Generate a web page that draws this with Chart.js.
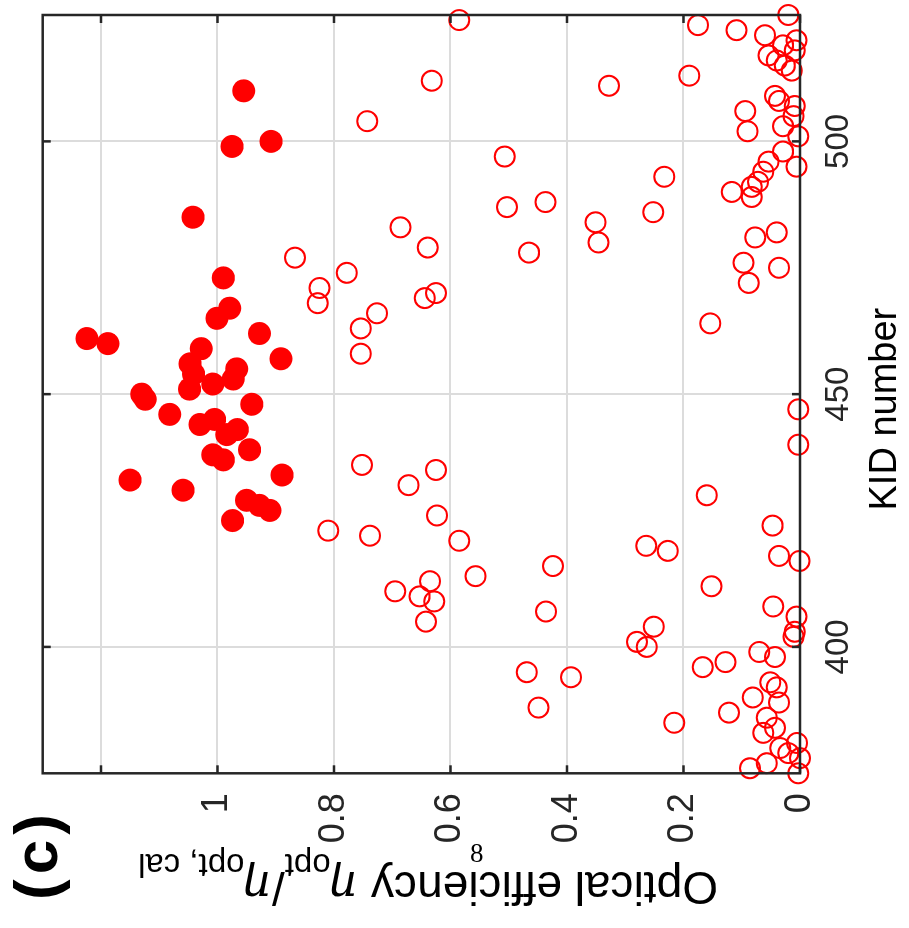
<!DOCTYPE html>
<html>
<head>
<meta charset="utf-8">
<script src="https://cdn.jsdelivr.net/npm/chart.js@4"></script>
<style>
  html, body { margin: 0; padding: 0; background: #fff; }
  body { width: 909px; height: 928px; position: relative; overflow: hidden; }
  #wrap {
    position: absolute; left: 0; top: 0;
    width: 928px; height: 909px;
    transform-origin: 0 0;
    transform: translate(0, 928px) rotate(-90deg);
  }
  #page {
    position: absolute; left: 470px; top: 838px;
    font-family: "Liberation Serif", serif; font-size: 27px; color: #000;
  }
</style>
</head>
<body>
<div id="wrap"><canvas id="chart" width="928" height="909"></canvas></div>
<div id="page">8</div>
<script>
// KIDs measured against the reference efficiency (filled = within the well-coupled group)
const filledKid = [510, 499, 500, 485, 473, 467, 465, 462, 461, 460,
                   459, 457, 456, 455, 454, 453, 452, 451, 450, 449,
                   448, 446, 445, 444, 443, 442, 439, 438, 437, 434,
                   433, 431, 429, 428, 427, 425];
const filledEff = [0.955, 0.975, 0.908, 1.042, 0.990, 0.979, 1.001, 0.928, 1.224, 1.188,
                   1.028, 0.891, 1.047, 0.967, 1.041, 0.973, 1.008, 1.048, 1.130, 1.124,
                   0.941, 1.082, 1.005, 1.030, 0.966, 0.984, 0.945, 1.008, 0.990, 0.889,
                   1.150, 1.059, 0.950, 0.928, 0.910, 0.974];

const openKid = [375, 376, 377, 378, 379, 380, 381, 383, 384, 385,
                 386, 387, 388, 389, 390, 392, 393, 394, 395, 396,
                 397, 398, 399, 400, 401, 402, 403, 404, 405, 406,
                 407, 408, 409, 410, 411, 412, 413, 414, 416, 417,
                 418, 419, 420, 421, 422, 423, 424, 426, 430, 432,
                 435, 436, 440, 447, 458, 463, 464, 466, 468, 469,
                 470, 471, 472, 474, 475, 476, 477, 478, 479, 480,
                 481, 482, 483, 484, 486, 487, 488, 489, 490, 491,
                 492, 493, 494, 495, 496, 497, 498, 501, 502, 503,
                 504, 505, 506, 507, 508, 509, 511, 512, 513, 514,
                 515, 516, 517, 518, 519, 520, 521, 522, 523, 524,
                 525];
const openEff = [0.003, 0.086, 0.057, 0.000, 0.020, 0.034, 0.005, 0.063, 0.043, 0.216,
                 0.057, 0.122, 0.449, 0.036, 0.081, 0.040, 0.051, 0.393, 0.469, 0.167,
                 0.128, 0.043, 0.070, 0.263, 0.280, 0.011, 0.009, 0.251, 0.642, 0.006,
                 0.436, 0.046, 0.628, 0.653, 0.695, 0.152, 0.635, 0.557, 0.424, 0.001,
                 0.036, 0.227, 0.264, 0.585, 0.738, 0.810, 0.047, 0.623, 0.160, 0.672,
                 0.625, 0.752, 0.003, 0.003, 0.754, 0.754, 0.154, 0.726, 0.828, 0.644,
                 0.625, 0.825, 0.088, 0.778, 0.036, 0.097, 0.867, 0.465, 0.639, 0.346,
                 0.077, 0.040, 0.686, 0.351, 0.252, 0.503, 0.437, 0.083, 0.117, 0.083,
                 0.072, 0.233, 0.063, 0.006, 0.054, 0.507, 0.029, 0.003, 0.090, 0.029,
                 0.743, 0.011, 0.094, 0.009, 0.036, 0.043, 0.328, 0.632, 0.190, 0.014,
                 0.026, 0.040, 0.054, 0.009, 0.029, 0.006, 0.060, 0.109, 0.175, 0.585,
                 0.020];

const kidTicks = [400, 450, 500];
const effTicks = [0, 0.2, 0.4, 0.6, 0.8, 1, 1.2];

const red = '#ff0000';
const axisColor = '#262626';
const gridColor = '#dcdcdc';
const sans = '"Liberation Sans", Arial, sans-serif';

const toPoints = (xs, ys) => xs.map((k, i) => ({ x: k, y: ys[i] }));

// box with inward ticks on all four sides plus the axis titles and panel letter
const boxPlugin = {
  id: 'box',
  afterDatasetsDraw(chart) {
    const { ctx, chartArea: a, scales } = chart;
    ctx.save();
    ctx.strokeStyle = axisColor;
    ctx.lineWidth = 2.5;
    ctx.strokeRect(a.left, a.top, a.right - a.left, a.bottom - a.top);
    const tl = 8;
    ctx.beginPath();
    kidTicks.forEach(v => {
      const p = scales.x.getPixelForValue(v);
      ctx.moveTo(p, a.bottom); ctx.lineTo(p, a.bottom - tl);
      ctx.moveTo(p, a.top); ctx.lineTo(p, a.top + tl);
    });
    effTicks.forEach(v => {
      const p = scales.y.getPixelForValue(v);
      ctx.moveTo(a.left, p); ctx.lineTo(a.left + tl, p);
      ctx.moveTo(a.right, p); ctx.lineTo(a.right - tl, p);
    });
    ctx.stroke();

    ctx.fillStyle = '#000';
    // x title
    ctx.font = '38px ' + sans;
    ctx.textAlign = 'center';
    ctx.textBaseline = 'alphabetic';
    ctx.fillText('KID number', (a.left + a.right) / 2 - 15, 896);

    // y title with subscripts
    const parts = [
      { t: 'Optical efficiency ', f: '46px ' + sans, dy: 0 },
      { t: 'η', f: 'italic 46px "DejaVu Serif", serif', dy: 0 },
      { t: 'opt', f: '33px ' + sans, dy: 18 },
      { t: '/', f: '46px ' + sans, dy: 0 },
      { t: 'η', f: 'italic 46px "DejaVu Serif", serif', dy: 0 },
      { t: 'opt, cal', f: '33px ' + sans, dy: 18 }
    ];
    let total = 0;
    parts.forEach(p => { ctx.font = p.f; p.w = ctx.measureText(p.t).width; total += p.w; });
    ctx.save();
    ctx.translate(56, 428);
    ctx.rotate(-Math.PI / 2);
    ctx.textAlign = 'left';
    let cx = -total / 2;
    parts.forEach(p => { ctx.font = p.f; ctx.fillText(p.t, cx, p.dy); cx += p.w; });
    ctx.restore();

    // panel letter
    ctx.font = 'bold 62px ' + sans;
    ctx.letterSpacing = '5px';
    ctx.textAlign = 'left';
    ctx.fillText('(c)', 28, 57);
    ctx.restore();
  }
};

new Chart(document.getElementById('chart'), {
  type: 'scatter',
  data: {
    datasets: [
      {
        label: 'filled',
        data: toPoints(filledKid, filledEff),
        backgroundColor: red,
        borderColor: red,
        borderWidth: 0,
        pointRadius: 11.5,
        clip: false,
        order: 1
      },
      {
        label: 'open',
        data: toPoints(openKid, openEff),
        backgroundColor: 'rgba(255,255,255,0)',
        borderColor: red,
        borderWidth: 2,
        pointRadius: 10,
        clip: false,
        order: 2
      }
    ]
  },
  options: {
    responsive: false,
    animation: false,
    devicePixelRatio: 1,
    events: [],
    layout: { padding: { left: 0, right: 15, top: 42.7, bottom: 0 } },
    plugins: { legend: { display: false }, tooltip: { enabled: false } },
    scales: {
      x: {
        type: 'linear',
        position: 'bottom',
        min: 375,
        max: 525,
        afterBuildTicks: s => { s.ticks = kidTicks.map(v => ({ value: v })); },
        afterFit: s => { s.height = 109; },
        grid: { color: gridColor, lineWidth: 2, drawTicks: false },
        border: { display: false },
        ticks: {
          color: axisColor,
          font: { family: sans, size: 33 },
          padding: 19,
          maxRotation: 0
        }
      },
      y: {
        type: 'linear',
        min: 0,
        max: 1.3,
        afterBuildTicks: s => { s.ticks = effTicks.map(v => ({ value: v })); },
        afterFit: s => { s.width = 154.7; },
        grid: { color: gridColor, lineWidth: 2, drawTicks: false },
        border: { display: false },
        ticks: {
          color: axisColor,
          font: { family: sans, size: 36 },
          padding: 20,
          callback: v => (v > 1.1 ? '' : String(Math.round(v * 10) / 10))
        }
      }
    }
  },
  plugins: [boxPlugin]
});
</script>
</body>
</html>
